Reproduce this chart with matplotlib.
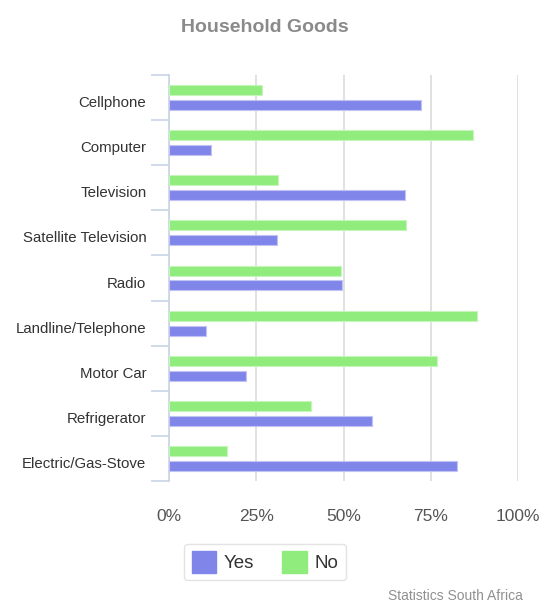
import matplotlib
matplotlib.use("Agg")
import matplotlib.pyplot as plt
import matplotlib.transforms as mtransforms
from matplotlib.patches import Patch
import numpy as np

categories = ["Cellphone", "Computer", "Television", "Satellite Television", "Radio",
              "Landline/Telephone", "Motor Car", "Refrigerator", "Electric/Gas-Stove"]
yes_vals = [72.3, 11.9, 67.5, 31.0, 49.7, 10.6, 22.2, 58.3, 82.4]
no_vals = [26.6, 87.1, 31.3, 68.0, 49.4, 88.3, 76.9, 40.7, 16.5]
x_ticks = [0, 25, 50, 75, 100]
x_tick_labels = ["0%", "25%", "50%", "75%", "100%"]

YES_C = "#8085e9"
NO_C = "#90ed7d"
AXIS_C = "#c8d4e6"
GRID_C = "#dcdcdc"
FONT = "Liberation Sans"

W, H = 549, 607
fig = plt.figure(figsize=(W / 100, H / 100), dpi=100)
ax = fig.add_axes([169 / W, 1 - 481 / H, (518 - 169) / W, (481 - 75) / H])

y = np.arange(len(categories))
off = 0.165
h = 0.22
ax.barh(y - off, no_vals, height=h, color=NO_C, edgecolor="#c6f5bc", linewidth=0.8, zorder=3)
ax.barh(y + off, yes_vals, height=h, color=YES_C, edgecolor="#c0c3f4", linewidth=0.8, zorder=3)

ax.set_xlim(0, 100)
ax.set_ylim(len(categories) - 0.5, -0.5)

for s in ["top", "right", "bottom"]:
    ax.spines[s].set_visible(False)
ax.spines["left"].set_color(AXIS_C)
ax.spines["left"].set_linewidth(1.2)

ax.set_xticks(x_ticks)
ax.set_xticklabels(x_tick_labels, fontsize=12.5, color="#555555", family=FONT)
ax.tick_params(axis="x", length=0, pad=20)
ax.xaxis.grid(True, color=GRID_C, linewidth=1.2, zorder=0)
ax.set_axisbelow(True)

# category labels (major) and boundary ticks (minor)
ax.set_yticks(y)
ax.set_yticklabels(categories, fontsize=10.8, color="#333333", family=FONT)
ax.tick_params(axis="y", which="major", length=0, pad=22)
shift = mtransforms.ScaledTranslation(8 / 100, -4 / 100, fig.dpi_scale_trans)
for lab in ax.get_yticklabels():
    lab.set_transform(lab.get_transform() + shift)
ax.set_yticks(np.arange(-0.5, len(categories), 1.0), minor=True)
ax.tick_params(axis="y", which="minor", length=13, width=1.2, color=AXIS_C)

fig.text(265 / W, 1 - 27 / H, "Household Goods", ha="center", va="center",
         fontsize=14, fontweight="bold", color="#8a8a8a", family=FONT)

handles = [Patch(facecolor=YES_C, edgecolor=YES_C, label="Yes"),
           Patch(facecolor=NO_C, edgecolor=NO_C, label="No")]
leg = fig.legend(handles=handles, loc="center", bbox_to_anchor=(265 / W, 1 - 562 / H),
                 ncol=2, frameon=True, prop={"family": FONT, "size": 13.5},
                 handlelength=1.3, handleheight=1.4, handletextpad=0.4,
                 columnspacing=1.5, borderpad=0.4, fancybox=True)
leg.get_frame().set_edgecolor("#dddddd")
leg.get_frame().set_linewidth(1.0)
for t in leg.get_texts():
    t.set_color("#333333")

fig.text(523 / W, 1 - 596 / H, "Statistics South Africa", ha="right", va="center",
         fontsize=10, color="#909090", family=FONT)

fig.savefig("out.png", dpi=100)
